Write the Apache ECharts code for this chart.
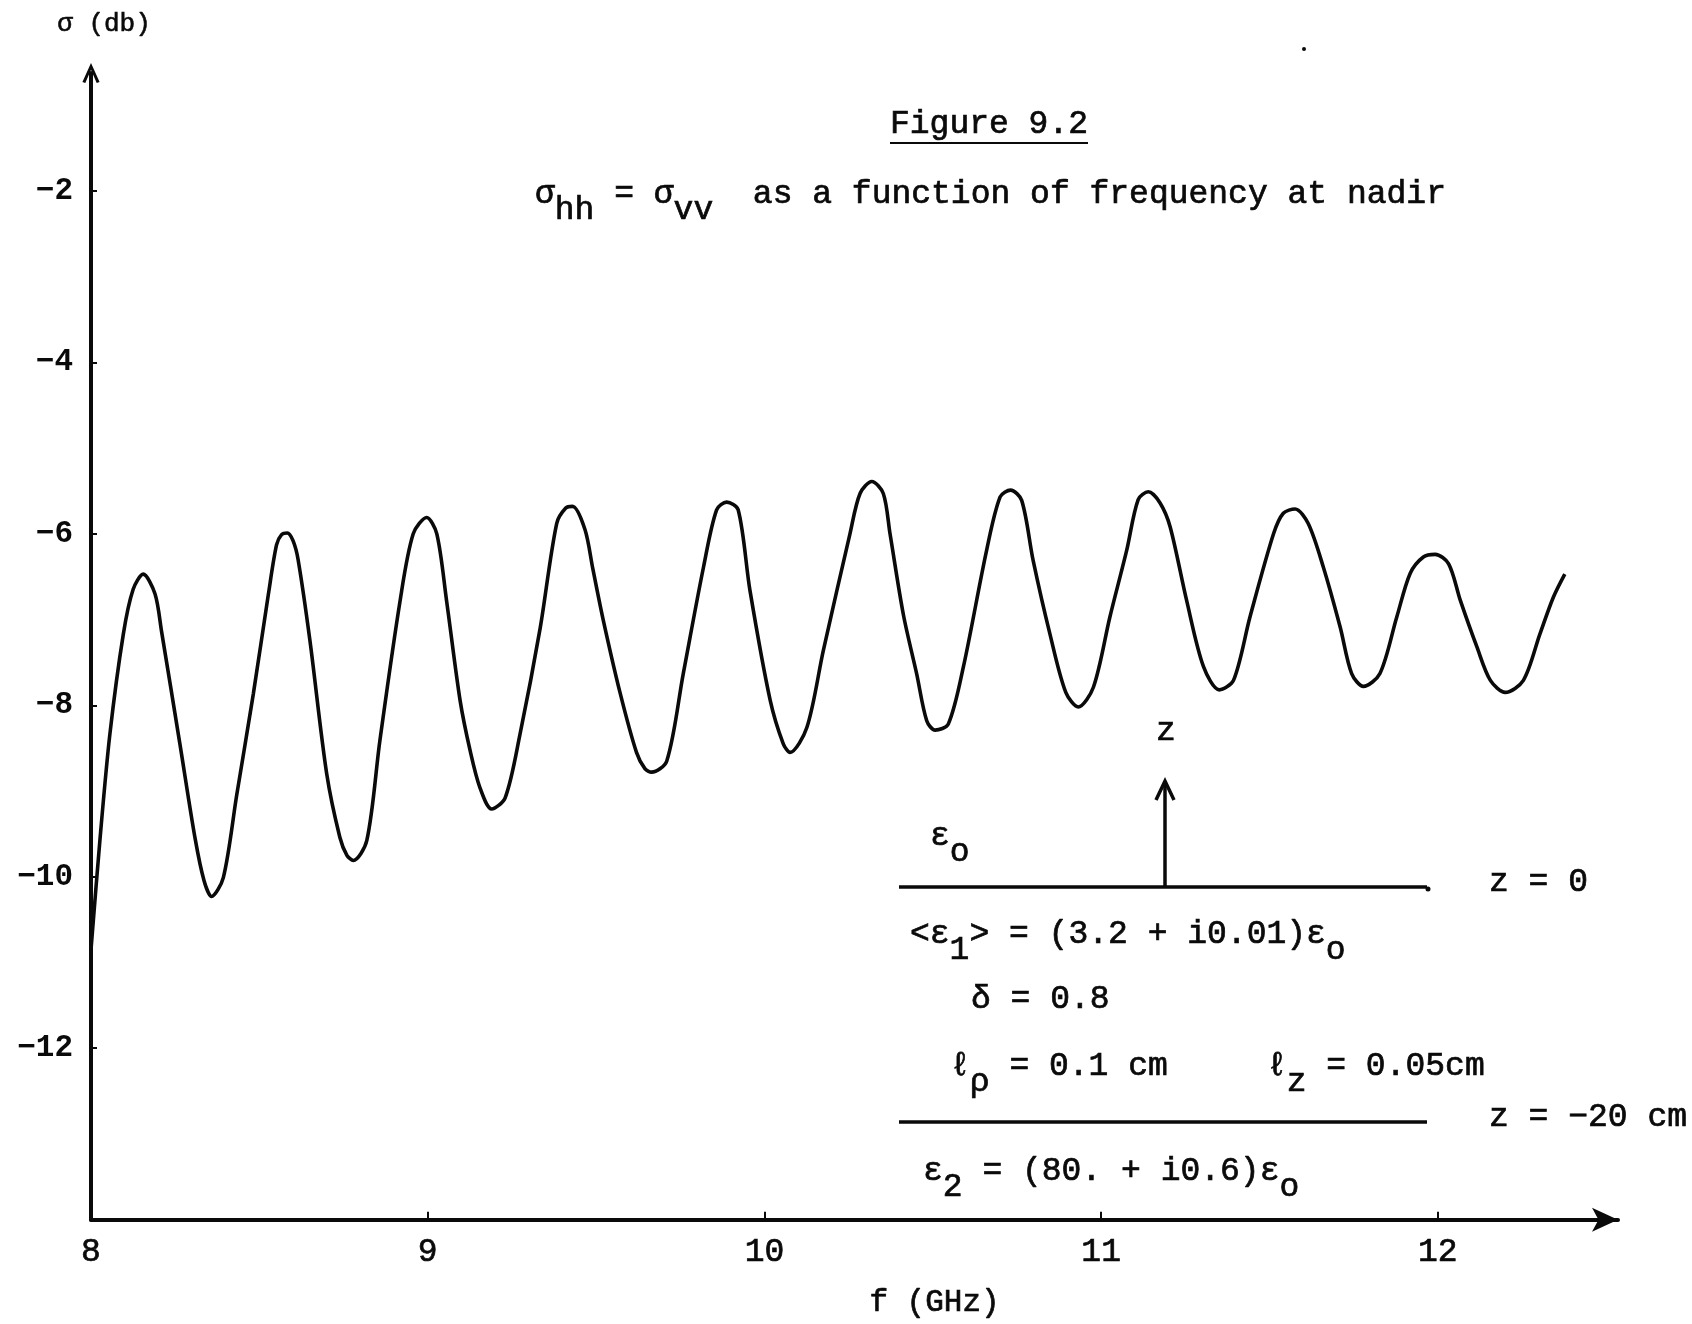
<!DOCTYPE html>
<html>
<head>
<meta charset="utf-8">
<title>Figure 9.2</title>
<script src="https://cdn.jsdelivr.net/npm/echarts@6/dist/echarts.min.js"></script>
<style>
  html, body { margin: 0; padding: 0; background: #fff; }
  #chart { width: 1692px; height: 1324px; }
</style>
</head>
<body>
<div id="chart"></div>
<script>
// Backscattering coefficient (dB) versus frequency (GHz) at nadir
const freqGHz = [
  8.000, 8.027, 8.056, 8.096, 8.125, 8.155, 8.190, 8.210, 8.264, 8.309, 8.336, 8.358,
  8.393, 8.433, 8.482, 8.527, 8.551, 8.566, 8.583, 8.600, 8.615, 8.650, 8.700, 8.739, 8.760, 8.779,
  8.819, 8.858, 8.918, 8.957, 8.997, 9.027, 9.056, 9.096, 9.126, 9.155, 9.190,
  9.230, 9.274, 9.334, 9.383, 9.410, 9.430, 9.467, 9.490, 9.521, 9.571, 9.620, 9.645, 9.665,
  9.710, 9.759, 9.819, 9.858, 9.888, 9.922, 9.957, 10.017, 10.056, 10.076,
  10.126, 10.175, 10.254, 10.284, 10.319, 10.353, 10.373, 10.413, 10.452, 10.482, 10.507,
  10.546, 10.591, 10.660, 10.700, 10.731, 10.764, 10.798, 10.848, 10.895, 10.932,
  10.977, 11.026, 11.076, 11.110, 11.140, 11.175, 11.205, 11.254, 11.304, 11.351,
  11.393, 11.442, 11.512, 11.541, 11.576, 11.615, 11.660, 11.710, 11.744, 11.779,
  11.828, 11.878, 11.918, 11.957, 11.992, 12.032, 12.067, 12.116, 12.156, 12.200,
  12.254, 12.303, 12.343, 12.377
];
const sigmaDb = [
  -10.85, -9.55, -8.34, -7.17, -6.65, -6.47, -6.70, -7.15, -8.45, -9.55, -10.05, -10.23,
  -10.01, -9.04, -7.87, -6.70, -6.13, -6.01, -5.99, -6.08, -6.30, -7.24, -8.80, -9.54, -9.75, -9.81,
  -9.58, -8.41, -6.78, -6.00, -5.81, -6.00, -6.78, -7.94, -8.53, -8.96, -9.21,
  -9.08, -8.34, -7.10, -5.88, -5.70, -5.68, -5.95, -6.40, -7.00, -7.85, -8.55, -8.74, -8.78,
  -8.65, -7.63, -6.39, -5.72, -5.63, -5.72, -6.66, -7.94, -8.45, -8.55,
  -8.26, -7.36, -6.00, -5.53, -5.39, -5.53, -6.00, -6.95, -7.63, -8.18, -8.29,
  -8.22, -7.55, -6.19, -5.57, -5.49, -5.61, -6.31, -7.17, -7.85, -8.02,
  -7.79, -6.97, -6.19, -5.60, -5.51, -5.64, -5.92, -6.78, -7.55, -7.82,
  -7.71, -6.97, -6.00, -5.76, -5.71, -5.88, -6.39, -7.09, -7.63, -7.78,
  -7.63, -6.97, -6.46, -6.27, -6.24, -6.35, -6.78, -7.32, -7.71, -7.85,
  -7.71, -7.17, -6.74, -6.47
];
const xTickValues = [8, 9, 10, 11, 12];
const yTickValues = [-2, -4, -6, -8, -10, -12];

const FONT = '"Liberation Mono", "DejaVu Sans Mono", monospace';
const INK = '#0a0a0a';
const SIZE = 33;

const chart = echarts.init(document.getElementById('chart'), null, { renderer: 'canvas' });

// text with typewriter-style lowered subscripts: {s|...}
function label(x, y, text, size) {
  const fs = size || SIZE;
  return {
    type: 'text',
    x: x, y: y,
    silent: true,
    style: {
      text: text,
      fill: INK,
      stroke: INK,
      lineWidth: 0.7,
      fontFamily: FONT,
      fontSize: fs,
      textAlign: 'left',
      textVerticalAlign: 'middle',
      rich: {
        s: { fontFamily: FONT, fontSize: fs, fill: INK, stroke: INK, lineWidth: 0.7, padding: [32, 0, 0, 0] }
      }
    }
  };
}

// open chevron, pointing up
const chevron = 'path://M1,20 L10,0 L19,20 L16,21 L10,7 L4,21 Z';

const option = {
  animation: false,
  backgroundColor: '#ffffff',
  grid: { left: 91, right: 74, top: 73, bottom: 103, containLabel: false },
  xAxis: {
    type: 'value',
    min: 8,
    max: 12.535,
    name: 'f (GHz)',
    nameLocation: 'middle',
    nameGap: 68,
    nameTextStyle: {
      fontFamily: FONT, fontSize: 31, color: INK,
      textBorderColor: INK, textBorderWidth: 0.7,
      padding: [0, 0, 0, 160]
    },
    axisLine: {
      show: true,
      onZero: false,
      symbol: ['none', 'arrow'],
      symbolSize: [18, 26],
      lineStyle: { color: INK, width: 4 }
    },
    axisTick: {
      show: true, inside: true, length: 8,
      customValues: xTickValues,
      lineStyle: { color: INK, width: 2 }
    },
    axisLabel: {
      customValues: xTickValues,
      margin: 16,
      fontFamily: FONT, fontSize: SIZE, color: INK,
      textBorderColor: INK, textBorderWidth: 0.7
    },
    splitLine: { show: false }
  },
  yAxis: {
    type: 'value',
    min: -14,
    max: -0.625,
    name: 'σ (db)',
    nameLocation: 'end',
    nameGap: 36,
    nameTextStyle: {
      fontFamily: FONT, fontSize: 26, color: INK,
      textBorderColor: INK, textBorderWidth: 0.6,
      padding: [0, 0, 0, 26]
    },
    axisLine: {
      show: true,
      onZero: false,
      symbol: ['none', chevron],
      symbolSize: [19, 20],
      lineStyle: { color: INK, width: 4 }
    },
    axisTick: {
      show: true, inside: true, length: 6,
      customValues: yTickValues,
      lineStyle: { color: INK, width: 2 }
    },
    axisLabel: {
      customValues: yTickValues,
      margin: 18,
      fontFamily: FONT, fontSize: 31, fontWeight: 'bold', color: INK,
      formatter: v => String(v).replace('-', '\u2212')
    },
    splitLine: { show: false }
  },
  series: [{
    type: 'line',
    data: freqGHz.map((f, i) => [f, sigmaDb[i]]),
    smooth: 0.3,
    showSymbol: false,
    lineStyle: { color: INK, width: 3.6 },
    z: 3
  }],
  graphic: [
    // heading
    label(890, 124, 'Figure 9.2'),
    { type: 'line', silent: true, shape: { x1: 890, y1: 143, x2: 1088, y2: 143 }, style: { stroke: INK, lineWidth: 2 } },
    label(535, 194, 'σ{s|hh} = σ{s|vv}  as a function of frequency at nadir'),
    { type: 'circle', silent: true, shape: { cx: 1304, cy: 49, r: 2 }, style: { fill: INK } },

    // layered medium sketch
    label(1156, 731, 'z'),
    { type: 'line', silent: true, shape: { x1: 1165, y1: 887, x2: 1165, y2: 782 }, style: { stroke: INK, lineWidth: 3.5 } },
    { type: 'polyline', silent: true, shape: { points: [[1156, 800], [1165, 781], [1174, 800]] }, style: { stroke: INK, lineWidth: 3.5, fill: null } },
    label(930, 836, 'ε{s|o}'),
    { type: 'line', silent: true, shape: { x1: 899, y1: 887, x2: 1427, y2: 887 }, style: { stroke: INK, lineWidth: 3.5 } },
    { type: 'circle', silent: true, shape: { cx: 1428, cy: 889, r: 2.5 }, style: { fill: INK } },
    label(1489, 882, 'z = 0'),
    label(910, 934, '<ε{s|1}> = (3.2 + i0.01)ε{s|o}'),
    label(971, 999, 'δ = 0.8'),
    label(950, 1066, 'ℓ{s|ρ} = 0.1 cm     ℓ{s|z} = 0.05cm'),
    { type: 'line', silent: true, shape: { x1: 899, y1: 1122, x2: 1427, y2: 1122 }, style: { stroke: INK, lineWidth: 3.5 } },
    label(1489, 1117, 'z = −20 cm'),
    label(923, 1171, 'ε{s|2} = (80. + i0.6)ε{s|o}')
  ]
};

chart.setOption(option);
</script>
</body>
</html>
